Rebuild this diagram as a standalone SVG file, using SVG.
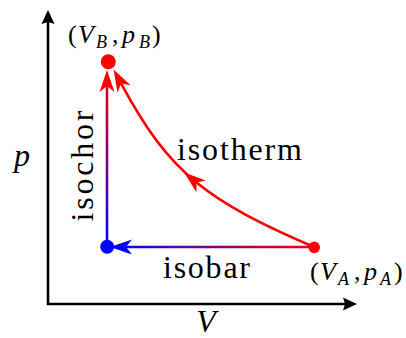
<svg xmlns="http://www.w3.org/2000/svg" width="406" height="338" viewBox="0 0 406 338">
<style>
  .lbl { font-family: 'Liberation Serif', 'DejaVu Serif', serif; font-size: 32px; fill: #000; }
  .math { font-family: 'Liberation Serif', 'DejaVu Serif', serif; font-size: 26px; fill: #000; }
  .it { font-style: italic; }
  .sub { font-size: 18px; font-style: italic; }
  .axis { fill: none; stroke: #000; stroke-width: 2.6; stroke-linejoin: miter; }
  .conn { fill: none; stroke-width: 2.6; }
</style>
<defs>
  <linearGradient id="gIsochor" gradientUnits="userSpaceOnUse" x1="107" y1="247" x2="107" y2="70">
    <stop offset="0" stop-color="#0000ff"/>
    <stop offset="1" stop-color="#ff0000"/>
  </linearGradient>
  <linearGradient id="gIsobar" gradientUnits="userSpaceOnUse" x1="314" y1="247" x2="110" y2="247">
    <stop offset="0" stop-color="#ff0000"/>
    <stop offset="1" stop-color="#0000ff"/>
  </linearGradient>
  <marker id="arrR" markerUnits="userSpaceOnUse" orient="auto" refX="0" refY="0" markerWidth="1" markerHeight="1" overflow="visible">
    <path d="M16,0 L-6,-7.5 L0,0 L-6,7.5 Z" fill="#ff0000"/>
  </marker>
  <marker id="arrB" markerUnits="userSpaceOnUse" orient="auto" refX="0" refY="0" markerWidth="1" markerHeight="1" overflow="visible">
    <path d="M16,0 L-6,-7.5 L0,0 L-6,7.5 Z" fill="#0000ff"/>
  </marker>
  <marker id="arrK" markerUnits="userSpaceOnUse" orient="auto-start-reverse" refX="0" refY="0" markerWidth="1" markerHeight="1" overflow="visible">
    <path d="M12,0 L-2,-6.5 L0,0 L-2,6.5 Z" fill="#000"/>
  </marker>
</defs>

<g id="axes">
  <path class="axis" d="M48,22 V304 H345" marker-start="url(#arrK)" marker-end="url(#arrK)"/>
  <text class="lbl it" x="14" y="166" font-size="35">p</text>
  <text class="lbl it" x="206" y="332" font-size="34" text-anchor="middle">V</text>
</g>

<g id="connectors">
  <g id="isochor">
    <path class="conn" d="M107,247 V86" stroke="url(#gIsochor)" marker-end="url(#arrR)"/>
    <text class="lbl" transform="translate(93,221.5) rotate(-90)" x="0" y="0" textLength="111" lengthAdjust="spacing">isochor</text>
  </g>
  <g id="isobar">
    <path class="conn" d="M314,247 H126" stroke="url(#gIsobar)" marker-end="url(#arrB)"/>
    <text class="lbl" x="163" y="277.5" textLength="87" lengthAdjust="spacing">isobar</text>
  </g>
  <g id="isotherm">
    <path class="conn" stroke="#ff0000" d="M314,247 C260.2,224 224.2,205.2 196.5,182.6 C166.1,157.8 145.4,128.3 121.2,83.6" marker-mid="url(#arrR)" marker-end="url(#arrR)"/>
    <text class="lbl" x="177" y="160" textLength="125" lengthAdjust="spacing">isotherm</text>
  </g>
</g>

<g id="nodeB">
  <circle cx="108.3" cy="61.7" r="7.5" fill="#ff0000"/>
  <text class="math" y="43.3"><tspan x="68">(</tspan><tspan class="it" x="78">V</tspan><tspan class="sub" x="96" y="48">B</tspan><tspan x="112" y="43.3">,</tspan><tspan class="it" x="122">p</tspan><tspan class="sub" x="139" y="48">B</tspan><tspan x="152" y="43.3">)</tspan></text>
</g>

<g id="nodeC">
  <circle cx="107.2" cy="246.8" r="7" fill="#0000ff"/>
</g>

<g id="nodeA">
  <circle cx="314.2" cy="247.3" r="5.8" fill="#ff0000"/>
  <text class="math" y="280"><tspan x="310">(</tspan><tspan class="it" x="320">V</tspan><tspan class="sub" x="338" y="285">A</tspan><tspan x="354" y="280">,</tspan><tspan class="it" x="364">p</tspan><tspan class="sub" x="380" y="285">A</tspan><tspan x="394" y="280">)</tspan></text>
</g>
</svg>
